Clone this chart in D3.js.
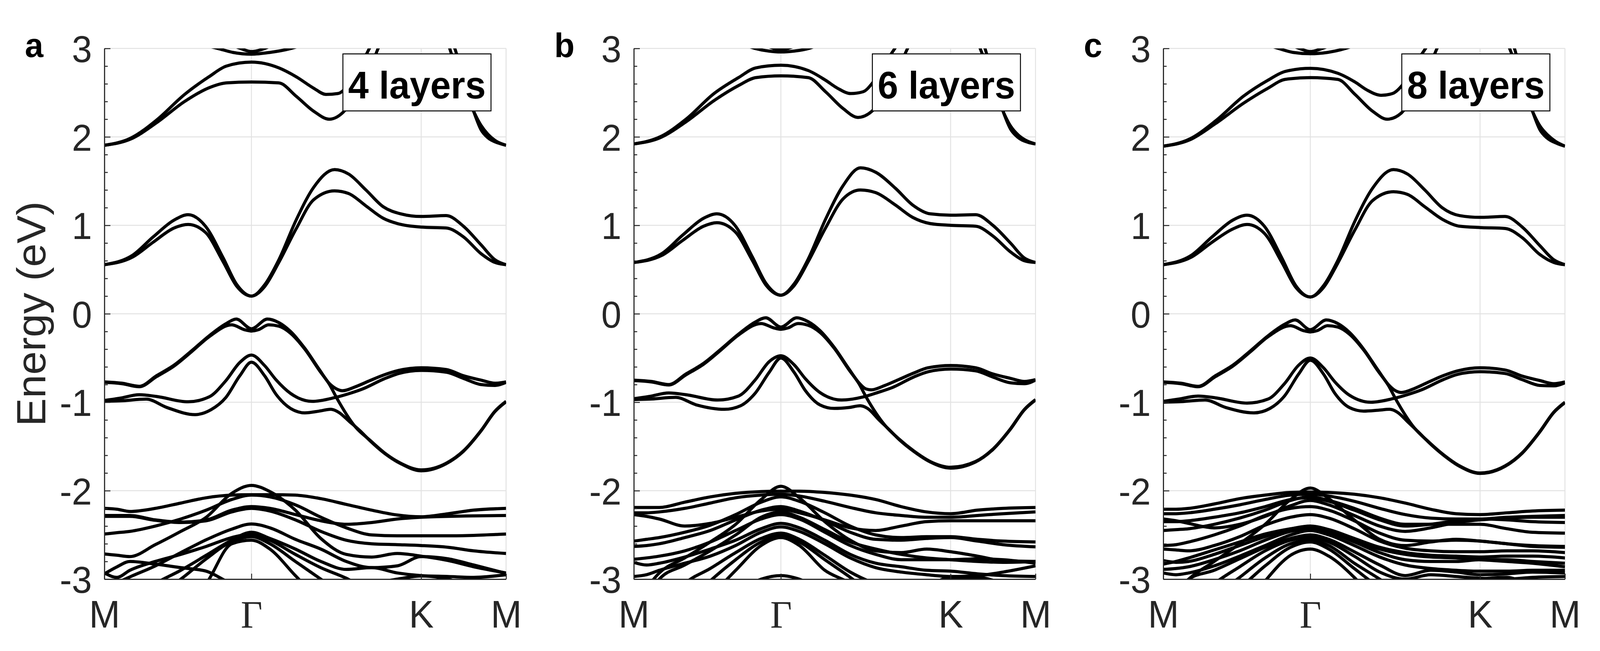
<!DOCTYPE html>
<html>
<head>
<meta charset="utf-8">
<script src="https://cdn.jsdelivr.net/npm/d3@7"></script>
<style>
  html, body { margin: 0; padding: 0; background: #fff; overflow: hidden; }
  svg { display: block; width: 100vw; height: 100vh; }
</style>
</head>
<body>
<script>
// high symmetry points along the k path M-Γ-K-M
var kTicks = [0, 0.5774, 1.244, 1.5774];
var kLabels = ["M", "\u0393", "K", "M"];
var eTicks = [-3, -2, -1, 0, 1, 2, 3];
var eMinor = [-2.8, -2.6, -2.4, -2.2, -1.8, -1.6, -1.4, -1.2, -0.8, -0.6, -0.4, -0.2,
              0.2, 0.4, 0.6, 0.8, 1.2, 1.4, 1.6, 1.8, 2.2, 2.4, 2.6, 2.8];
var panelLetters = ["a", "b", "c"];
var layerLabels = ["4 layers", "6 layers", "8 layers"];

// ---------- panel a (4 layers), bands above -2 eV as [k, E] ----------
var a_top1 = [[0.356,3.06],[0.445,3.0],[0.505,2.955],[0.5774,2.935],[0.65,2.955],[0.733,3.0],[0.80,3.06]];
var a_top2 = [[0.50,3.04],[0.534,3.0],[0.5774,2.965],[0.63,3.0],[0.66,3.04]];
var a_cb2u = [[0,1.905],[0.103,1.985],[0.205,2.19],[0.315,2.48],[0.411,2.68],[0.479,2.80],[0.5774,2.845],[0.685,2.78],[0.753,2.68],[0.822,2.55],[0.87,2.48],[0.917,2.49],[0.959,2.59],[1.013,2.845],[1.05,3.05],[1.15,3.4],[1.244,3.55],[1.33,3.3],[1.356,3.0],[1.397,2.70],[1.438,2.37],[1.479,2.13],[1.506,2.03],[1.534,1.96],[1.5774,1.905]];
var a_cb2l = [[0,1.905],[0.103,1.975],[0.205,2.16],[0.315,2.40],[0.411,2.555],[0.479,2.61],[0.5774,2.62],[0.685,2.61],[0.753,2.46],[0.822,2.29],[0.883,2.20],[0.938,2.28],[0.986,2.47],[1.041,2.75],[1.075,3.0],[1.12,3.25],[1.244,3.45],[1.32,3.25],[1.376,3.0],[1.41,2.66],[1.451,2.28],[1.479,2.08],[1.506,1.99],[1.547,1.93],[1.5774,1.905]];
var a_cb1u = [[0,0.555],[0.11,0.66],[0.192,0.87],[0.274,1.06],[0.329,1.12],[0.397,0.99],[0.466,0.635],[0.52,0.33],[0.5774,0.20],[0.63,0.33],[0.685,0.61],[0.753,1.06],[0.822,1.43],[0.904,1.63],[0.959,1.58],[1.027,1.40],[1.095,1.21],[1.164,1.13],[1.244,1.10],[1.342,1.11],[1.41,0.99],[1.479,0.78],[1.534,0.61],[1.5774,0.555]];
var a_cb1l = [[0,0.555],[0.11,0.64],[0.192,0.81],[0.274,0.97],[0.329,1.01],[0.397,0.92],[0.466,0.59],[0.52,0.31],[0.5774,0.20],[0.63,0.31],[0.685,0.58],[0.753,0.96],[0.822,1.29],[0.904,1.39],[0.959,1.36],[1.027,1.22],[1.095,1.08],[1.164,1.01],[1.244,0.98],[1.342,0.97],[1.41,0.87],[1.479,0.68],[1.534,0.58],[1.5774,0.555]];
var a_vb1 = [[0,-0.77],[0.069,-0.785],[0.137,-0.82],[0.205,-0.70],[0.274,-0.58],[0.342,-0.42],[0.411,-0.25],[0.476,-0.115],[0.518,-0.06],[0.5774,-0.17],[0.640,-0.06],[0.685,-0.10],[0.731,-0.20],[0.787,-0.39],[0.844,-0.63],[0.884,-0.79],[0.912,-0.85],[0.935,-0.87],[0.986,-0.825],[1.043,-0.755],[1.099,-0.69],[1.156,-0.64],[1.244,-0.61],[1.342,-0.63],[1.41,-0.70],[1.479,-0.75],[1.534,-0.785],[1.5774,-0.77]];
var a_vb2 = [[0,-0.775],[0.069,-0.79],[0.137,-0.825],[0.205,-0.71],[0.274,-0.59],[0.342,-0.43],[0.411,-0.26],[0.50,-0.125],[0.55,-0.18],[0.5774,-0.195],[0.605,-0.18],[0.645,-0.125],[0.685,-0.14],[0.731,-0.22],[0.787,-0.40],[0.844,-0.64],[0.884,-0.80],[0.912,-0.95],[0.986,-1.28],[1.043,-1.43],[1.099,-1.57],[1.164,-1.69],[1.244,-1.765],[1.342,-1.69],[1.41,-1.55],[1.479,-1.32],[1.534,-1.10],[1.5774,-0.99]];
var a_vb3 = [[0,-0.98],[0.06,-0.955],[0.137,-0.915],[0.205,-0.935],[0.329,-0.995],[0.411,-0.94],[0.476,-0.76],[0.532,-0.55],[0.5774,-0.467],[0.629,-0.585],[0.674,-0.746],[0.731,-0.90],[0.816,-0.99],[0.901,-0.95],[0.958,-0.905],[1.014,-0.85],[1.099,-0.735],[1.156,-0.675],[1.244,-0.64],[1.342,-0.66],[1.41,-0.73],[1.479,-0.80],[1.534,-0.81],[1.5774,-0.775]];
var a_vb4 = [[0,-0.99],[0.06,-0.985],[0.164,-0.965],[0.246,-1.06],[0.356,-1.14],[0.419,-1.084],[0.476,-0.95],[0.532,-0.70],[0.5774,-0.548],[0.629,-0.70],[0.674,-0.91],[0.731,-1.07],[0.787,-1.12],[0.844,-1.10],[0.889,-1.08],[0.918,-1.11],[0.963,-1.22],[1.003,-1.32],[1.043,-1.435],[1.099,-1.575],[1.164,-1.695],[1.244,-1.775],[1.342,-1.695],[1.41,-1.555],[1.479,-1.325],[1.534,-1.105],[1.5774,-0.995]];

// ---------- panel b (6 layers) ----------
var b_top1 = [[0.40,3.08],[0.476,3.0],[0.53,2.97],[0.5774,2.96],[0.63,2.97],[0.688,3.0],[0.75,3.08]];
var b_top2 = [[0.52,3.03],[0.55,3.0],[0.5774,2.985],[0.605,3.0],[0.635,3.03]];
var b_cb2u = [[0,1.92],[0.103,2.00],[0.205,2.20],[0.315,2.49],[0.411,2.67],[0.479,2.78],[0.5774,2.81],[0.685,2.75],[0.753,2.64],[0.80,2.55],[0.852,2.49],[0.90,2.51],[0.94,2.62],[0.99,2.85],[1.025,3.0],[1.10,3.35],[1.244,3.55],[1.32,3.3],[1.36,3.0],[1.40,2.70],[1.44,2.36],[1.48,2.12],[1.51,2.02],[1.54,1.96],[1.5774,1.92]];
var b_cb2l = [[0,1.92],[0.103,1.99],[0.205,2.17],[0.315,2.41],[0.411,2.58],[0.479,2.67],[0.5774,2.69],[0.685,2.67],[0.753,2.51],[0.822,2.32],[0.88,2.22],[0.935,2.29],[0.98,2.47],[1.04,2.78],[1.075,3.0],[1.12,3.25],[1.244,3.45],[1.32,3.25],[1.379,3.0],[1.41,2.66],[1.451,2.28],[1.479,2.09],[1.506,2.00],[1.547,1.94],[1.5774,1.92]];
var b_cb1u = [[0,0.58],[0.11,0.68],[0.192,0.89],[0.274,1.08],[0.326,1.13],[0.397,1.00],[0.466,0.64],[0.52,0.34],[0.5774,0.21],[0.63,0.34],[0.685,0.62],[0.753,1.07],[0.822,1.45],[0.89,1.65],[0.95,1.60],[1.027,1.42],[1.095,1.23],[1.164,1.13],[1.244,1.115],[1.342,1.12],[1.41,1.00],[1.479,0.80],[1.534,0.63],[1.5774,0.58]];
var b_cb1l = [[0,0.58],[0.11,0.66],[0.192,0.83],[0.274,0.99],[0.326,1.03],[0.397,0.93],[0.466,0.60],[0.52,0.32],[0.5774,0.21],[0.63,0.32],[0.685,0.59],[0.753,0.97],[0.822,1.30],[0.89,1.40],[0.95,1.37],[1.027,1.23],[1.095,1.09],[1.164,1.02],[1.244,1.00],[1.342,0.99],[1.41,0.88],[1.479,0.70],[1.534,0.60],[1.5774,0.58]];
var b_vb1 = [[0,-0.75],[0.069,-0.765],[0.137,-0.80],[0.205,-0.68],[0.274,-0.56],[0.342,-0.40],[0.411,-0.23],[0.476,-0.095],[0.518,-0.045],[0.5774,-0.15],[0.640,-0.045],[0.685,-0.09],[0.731,-0.19],[0.787,-0.38],[0.844,-0.62],[0.884,-0.78],[0.912,-0.85],[0.932,-0.86],[0.986,-0.81],[1.043,-0.74],[1.099,-0.67],[1.156,-0.61],[1.244,-0.585],[1.342,-0.61],[1.41,-0.68],[1.479,-0.73],[1.534,-0.765],[1.5774,-0.745]];
var b_vb2 = [[0,-0.755],[0.069,-0.77],[0.137,-0.805],[0.205,-0.69],[0.274,-0.57],[0.342,-0.41],[0.411,-0.24],[0.50,-0.11],[0.55,-0.16],[0.5774,-0.175],[0.605,-0.16],[0.645,-0.11],[0.685,-0.13],[0.731,-0.21],[0.787,-0.39],[0.844,-0.63],[0.884,-0.79],[0.912,-0.94],[0.986,-1.26],[1.043,-1.42],[1.099,-1.55],[1.164,-1.67],[1.244,-1.735],[1.342,-1.67],[1.41,-1.53],[1.479,-1.30],[1.534,-1.08],[1.5774,-0.97]];
var b_vb3 = [[0,-0.96],[0.06,-0.935],[0.137,-0.895],[0.205,-0.915],[0.329,-0.975],[0.411,-0.93],[0.476,-0.75],[0.532,-0.54],[0.5774,-0.475],[0.629,-0.575],[0.674,-0.735],[0.731,-0.89],[0.816,-0.975],[0.901,-0.94],[0.958,-0.89],[1.014,-0.835],[1.099,-0.715],[1.156,-0.655],[1.244,-0.625],[1.342,-0.645],[1.41,-0.715],[1.479,-0.78],[1.534,-0.79],[1.5774,-0.75]];
var b_vb4 = [[0,-0.97],[0.06,-0.965],[0.164,-0.945],[0.246,-1.03],[0.356,-1.08],[0.419,-1.04],[0.476,-0.90],[0.532,-0.66],[0.5774,-0.50],[0.629,-0.66],[0.674,-0.87],[0.731,-1.03],[0.787,-1.07],[0.844,-1.06],[0.889,-1.04],[0.918,-1.07],[0.963,-1.20],[1.003,-1.31],[1.043,-1.425],[1.099,-1.555],[1.164,-1.675],[1.244,-1.745],[1.342,-1.675],[1.41,-1.535],[1.479,-1.305],[1.534,-1.085],[1.5774,-0.975]];

// ---------- panel c (8 layers) ----------
var c_top1 = [[0.38,3.07],[0.452,3.0],[0.51,2.955],[0.5774,2.94],[0.645,2.955],[0.716,3.0],[0.78,3.07]];
var c_top2 = [[0.50,3.04],[0.534,3.0],[0.5774,2.965],[0.625,3.0],[0.66,3.04]];
var c_cb2u = [[0,1.895],[0.103,1.975],[0.205,2.18],[0.315,2.46],[0.411,2.64],[0.479,2.74],[0.5774,2.775],[0.685,2.72],[0.753,2.62],[0.80,2.53],[0.856,2.47],[0.90,2.49],[0.94,2.59],[0.99,2.83],[1.03,3.0],[1.10,3.35],[1.244,3.55],[1.32,3.3],[1.36,3.0],[1.40,2.70],[1.44,2.36],[1.48,2.12],[1.51,2.02],[1.54,1.95],[1.5774,1.895]];
var c_cb2l = [[0,1.895],[0.103,1.965],[0.205,2.15],[0.315,2.38],[0.411,2.55],[0.479,2.65],[0.5774,2.67],[0.685,2.65],[0.753,2.48],[0.822,2.29],[0.88,2.20],[0.935,2.27],[0.98,2.45],[1.04,2.76],[1.075,3.0],[1.12,3.25],[1.244,3.45],[1.32,3.25],[1.379,3.0],[1.41,2.66],[1.451,2.28],[1.479,2.08],[1.506,1.99],[1.547,1.925],[1.5774,1.895]];
var c_cb1u = [[0,0.555],[0.11,0.66],[0.192,0.87],[0.274,1.06],[0.329,1.115],[0.397,0.99],[0.466,0.63],[0.52,0.32],[0.5774,0.19],[0.63,0.32],[0.685,0.60],[0.753,1.05],[0.822,1.42],[0.904,1.63],[0.959,1.58],[1.027,1.40],[1.095,1.20],[1.164,1.11],[1.244,1.09],[1.342,1.10],[1.41,0.98],[1.479,0.77],[1.534,0.61],[1.5774,0.555]];
var c_cb1l = [[0,0.555],[0.11,0.64],[0.192,0.81],[0.274,0.96],[0.329,1.01],[0.397,0.91],[0.466,0.58],[0.52,0.30],[0.5774,0.19],[0.63,0.30],[0.685,0.57],[0.753,0.95],[0.822,1.28],[0.904,1.38],[0.959,1.35],[1.027,1.21],[1.095,1.07],[1.164,0.99],[1.244,0.975],[1.342,0.965],[1.41,0.86],[1.479,0.67],[1.534,0.58],[1.5774,0.555]];
var c_vb1 = [[0,-0.77],[0.069,-0.785],[0.137,-0.82],[0.205,-0.70],[0.274,-0.58],[0.342,-0.42],[0.411,-0.25],[0.476,-0.12],[0.518,-0.07],[0.5774,-0.18],[0.640,-0.07],[0.685,-0.11],[0.731,-0.21],[0.787,-0.40],[0.844,-0.64],[0.884,-0.80],[0.912,-0.87],[0.935,-0.89],[0.986,-0.845],[1.043,-0.77],[1.099,-0.70],[1.156,-0.645],[1.244,-0.61],[1.342,-0.635],[1.41,-0.705],[1.479,-0.755],[1.534,-0.79],[1.5774,-0.77]];
var c_vb2 = [[0,-0.775],[0.069,-0.79],[0.137,-0.825],[0.205,-0.71],[0.274,-0.59],[0.342,-0.43],[0.411,-0.26],[0.50,-0.135],[0.55,-0.19],[0.5774,-0.205],[0.605,-0.19],[0.645,-0.135],[0.685,-0.15],[0.731,-0.23],[0.787,-0.41],[0.844,-0.65],[0.884,-0.81],[0.912,-0.96],[0.986,-1.29],[1.043,-1.45],[1.099,-1.59],[1.164,-1.72],[1.244,-1.80],[1.342,-1.72],[1.41,-1.57],[1.479,-1.33],[1.534,-1.11],[1.5774,-1.0]];
var c_vb3 = [[0,-0.99],[0.06,-0.965],[0.137,-0.93],[0.205,-0.95],[0.329,-1.01],[0.411,-0.965],[0.476,-0.79],[0.532,-0.58],[0.5774,-0.50],[0.629,-0.61],[0.674,-0.77],[0.731,-0.92],[0.816,-1.0],[0.901,-0.96],[0.958,-0.915],[1.014,-0.86],[1.099,-0.745],[1.156,-0.685],[1.244,-0.655],[1.342,-0.675],[1.41,-0.745],[1.479,-0.81],[1.534,-0.815],[1.5774,-0.78]];
var c_vb4 = [[0,-1.0],[0.06,-0.995],[0.164,-0.975],[0.246,-1.06],[0.356,-1.12],[0.419,-1.07],[0.476,-0.93],[0.532,-0.68],[0.5774,-0.525],[0.629,-0.68],[0.674,-0.90],[0.731,-1.06],[0.787,-1.10],[0.844,-1.09],[0.889,-1.08],[0.918,-1.11],[0.963,-1.23],[1.003,-1.34],[1.043,-1.455],[1.099,-1.595],[1.164,-1.725],[1.244,-1.805],[1.342,-1.725],[1.41,-1.575],[1.479,-1.335],[1.534,-1.115],[1.5774,-1.005]];

// ---------- deep bands (-2 to -3 eV), energies on a shared k grid ----------
var kLow = [0, 0.05, 0.1, 0.2, 0.3, 0.4, 0.5, 0.5774, 0.65, 0.75, 0.85, 0.95, 1.05, 1.15, 1.244, 1.35, 1.45, 1.5774];

var lowA = [
  [-2.20,-2.21,-2.235,-2.20,-2.14,-2.08,-2.05,-2.045,-2.045,-2.05,-2.09,-2.155,-2.22,-2.275,-2.295,-2.26,-2.22,-2.20],
  [-2.715,-2.73,-2.745,-2.61,-2.46,-2.30,-2.03,-1.94,-2.01,-2.22,-2.54,-2.72,-2.75,-2.71,-2.74,-2.79,-2.86,-2.93],
  [-2.28,-2.28,-2.28,-2.33,-2.355,-2.33,-2.22,-2.18,-2.20,-2.27,-2.34,-2.38,-2.36,-2.32,-2.30,-2.29,-2.285,-2.28],
  [-2.49,-2.475,-2.46,-2.40,-2.32,-2.22,-2.10,-2.05,-2.07,-2.16,-2.30,-2.42,-2.50,-2.51,-2.51,-2.51,-2.505,-2.49],
  [-2.29,-2.29,-2.29,-2.335,-2.36,-2.34,-2.24,-2.20,-2.23,-2.33,-2.46,-2.56,-2.60,-2.61,-2.62,-2.64,-2.68,-2.71],
  [-3.1,-3.04,-2.975,-2.85,-2.70,-2.555,-2.435,-2.376,-2.42,-2.55,-2.66,-2.80,-2.87,-2.85,-2.745,-2.77,-2.84,-2.935],
  [-3.4,-3.32,-3.25,-3.05,-2.90,-2.73,-2.56,-2.47,-2.54,-2.66,-2.80,-2.89,-2.87,-2.93,-2.96,-2.97,-2.98,-2.95],
  [-3.5,-3.42,-3.35,-3.2,-3.0,-2.77,-2.575,-2.52,-2.60,-2.80,-3.0,-3.2,-3.3,-3.3,-3.3,-3.3,-3.3,-3.3],
  [-3.8,-3.75,-3.7,-3.55,-3.35,-3.05,-2.60,-2.56,-2.66,-2.96,-3.25,-3.4,-3.4,-3.4,-3.4,-3.4,-3.4,-3.4],
  [-2.93,-2.98,-2.90,-2.80,-2.72,-2.63,-2.53,-2.49,-2.56,-2.72,-2.87,-2.99,-3.15,-3.2,-3.2,-3.2,-3.2,-3.2],
  [-2.94,-2.86,-2.80,-2.83,-2.87,-2.91,-3.05,-3.1,-3.1,-3.1,-3.1,-3.1,-3.05,-3.0,-2.965,-3.0,-3.1,-3.2]
];

var lowB = [
  [-2.19,-2.19,-2.19,-2.13,-2.07,-2.03,-2.01,-2.005,-2.005,-2.02,-2.05,-2.10,-2.18,-2.24,-2.26,-2.22,-2.20,-2.19],
  [-2.25,-2.25,-2.24,-2.20,-2.14,-2.08,-2.05,-2.04,-2.06,-2.12,-2.19,-2.25,-2.28,-2.30,-2.30,-2.28,-2.26,-2.24],
  [-2.27,-2.29,-2.32,-2.40,-2.37,-2.30,-2.23,-2.21,-2.25,-2.33,-2.42,-2.45,-2.40,-2.35,-2.34,-2.34,-2.34,-2.34],
  [-3.3,-3.1,-2.93,-2.76,-2.58,-2.38,-2.10,-1.95,-2.08,-2.35,-2.56,-2.68,-2.70,-2.66,-2.69,-2.74,-2.79,-2.80],
  [-2.57,-2.55,-2.53,-2.47,-2.39,-2.27,-2.13,-2.07,-2.12,-2.25,-2.40,-2.50,-2.53,-2.52,-2.52,-2.55,-2.57,-2.58],
  [-2.63,-2.62,-2.60,-2.53,-2.45,-2.33,-2.22,-2.18,-2.23,-2.34,-2.47,-2.55,-2.56,-2.54,-2.53,-2.57,-2.61,-2.635],
  [-3.4,-3.2,-3.0,-2.84,-2.68,-2.50,-2.30,-2.24,-2.30,-2.44,-2.58,-2.66,-2.72,-2.76,-2.78,-2.80,-2.81,-2.80],
  [-2.775,-2.76,-2.74,-2.68,-2.58,-2.45,-2.32,-2.27,-2.32,-2.47,-2.62,-2.72,-2.78,-2.78,-2.78,-2.77,-2.78,-2.82],
  [-2.81,-2.84,-2.82,-2.75,-2.66,-2.56,-2.43,-2.37,-2.42,-2.56,-2.72,-2.82,-2.86,-2.90,-2.91,-2.94,-2.96,-2.97],
  [-2.97,-2.95,-2.90,-2.82,-2.74,-2.62,-2.47,-2.41,-2.46,-2.60,-2.76,-2.87,-2.92,-2.95,-2.97,-2.96,-2.92,-2.85],
  [-3.6,-3.5,-3.4,-3.05,-2.88,-2.70,-2.54,-2.48,-2.55,-2.73,-2.92,-3.05,-3.1,-3.1,-3.0,-2.98,-3.05,-3.2],
  [-3.8,-3.7,-3.6,-3.3,-3.02,-2.78,-2.58,-2.51,-2.58,-2.78,-2.98,-3.2,-3.3,-3.3,-3.3,-3.3,-3.3,-3.3],
  [-4.0,-3.9,-3.8,-3.5,-3.2,-2.9,-2.62,-2.53,-2.62,-2.90,-3.05,-3.3,-3.4,-3.4,-3.4,-3.4,-3.4,-3.4],
  [-3.5,-3.5,-3.5,-3.4,-3.3,-3.15,-3.0,-2.96,-3.0,-3.15,-3.3,-3.4,-3.3,-3.1,-2.98,-3.0,-3.1,-3.3]
];

var lowC = [
  [-2.21,-2.21,-2.20,-2.15,-2.09,-2.05,-2.02,-2.015,-2.02,-2.04,-2.08,-2.14,-2.21,-2.26,-2.27,-2.25,-2.23,-2.22],
  [-2.26,-2.26,-2.25,-2.21,-2.16,-2.10,-2.05,-2.04,-2.06,-2.12,-2.20,-2.27,-2.31,-2.32,-2.32,-2.30,-2.29,-2.28],
  [-2.32,-2.34,-2.37,-2.42,-2.38,-2.29,-2.17,-2.11,-2.16,-2.28,-2.40,-2.46,-2.42,-2.36,-2.33,-2.31,-2.30,-2.30],
  [-3.3,-3.15,-3.0,-2.80,-2.60,-2.38,-2.10,-1.97,-2.09,-2.33,-2.55,-2.62,-2.58,-2.55,-2.57,-2.60,-2.63,-2.64],
  [-2.45,-2.44,-2.43,-2.38,-2.31,-2.22,-2.11,-2.07,-2.11,-2.20,-2.31,-2.38,-2.38,-2.38,-2.38,-2.43,-2.47,-2.48],
  [-2.62,-2.61,-2.58,-2.50,-2.40,-2.28,-2.20,-2.18,-2.22,-2.34,-2.48,-2.56,-2.57,-2.56,-2.57,-2.60,-2.62,-2.63],
  [-2.66,-2.67,-2.68,-2.62,-2.52,-2.39,-2.30,-2.27,-2.31,-2.43,-2.57,-2.65,-2.68,-2.69,-2.69,-2.68,-2.68,-2.70],
  [-2.83,-2.80,-2.76,-2.67,-2.58,-2.49,-2.43,-2.40,-2.44,-2.54,-2.64,-2.70,-2.73,-2.74,-2.75,-2.74,-2.74,-2.76],
  [-2.89,-2.88,-2.86,-2.78,-2.68,-2.56,-2.46,-2.43,-2.47,-2.58,-2.70,-2.78,-2.80,-2.80,-2.78,-2.78,-2.80,-2.82],
  [-2.93,-2.95,-2.93,-2.85,-2.74,-2.62,-2.50,-2.45,-2.50,-2.62,-2.75,-2.84,-2.88,-2.90,-2.91,-2.91,-2.90,-2.90],
  [-3.4,-3.2,-3.0,-2.90,-2.77,-2.64,-2.54,-2.50,-2.55,-2.69,-2.84,-2.96,-2.90,-2.92,-2.95,-2.94,-2.92,-2.93],
  [-3.6,-3.5,-3.3,-3.05,-2.86,-2.68,-2.56,-2.53,-2.58,-2.74,-2.92,-3.0,-2.95,-2.97,-2.99,-3.0,-2.98,-2.97],
  [-3.8,-3.7,-3.5,-3.2,-2.98,-2.76,-2.60,-2.56,-2.62,-2.82,-3.0,-3.2,-3.3,-3.2,-3.0,-2.98,-3.1,-3.3],
  [-4.2,-4.1,-4.0,-3.7,-3.4,-3.02,-2.73,-2.66,-2.74,-2.98,-3.3,-3.5,-3.5,-3.5,-3.5,-3.5,-3.5,-3.5],
  [-3.9,-3.8,-3.6,-3.3,-3.1,-2.85,-2.64,-2.58,-2.66,-2.88,-3.1,-3.3,-3.4,-3.4,-3.4,-3.4,-3.4,-3.4],
  [-2.35,-2.35,-2.34,-2.30,-2.25,-2.18,-2.10,-2.08,-2.12,-2.22,-2.33,-2.40,-2.38,-2.34,-2.32,-2.33,-2.35,-2.36],
  [-2.79,-2.81,-2.80,-2.72,-2.62,-2.52,-2.44,-2.42,-2.46,-2.56,-2.66,-2.72,-2.75,-2.76,-2.78,-2.80,-2.82,-2.86]
];

var upperA = [a_top1, a_top2, a_cb2u, a_cb2l, a_cb1u, a_cb1l, a_vb1, a_vb2, a_vb3, a_vb4];
var upperB = [b_top1, b_top2, b_cb2u, b_cb2l, b_cb1u, b_cb1l, b_vb1, b_vb2, b_vb3, b_vb4];
var upperC = [c_top1, c_top2, c_cb2u, c_cb2l, c_cb1u, c_cb1l, c_vb1, c_vb2, c_vb3, c_vb4];

// ---------- layout (drawn in a 4246 x 1667 coordinate box, stretched to the window) ----------
var W = 4246, H = 1667;
var panelLeft = [277, 1682, 3087];
var plotTop = 124, plotW = 1066, plotH = 1359;
var sans = "'Liberation Sans', Arial, Helvetica, sans-serif";
var serif = "'Liberation Serif', 'Times New Roman', serif";
var axisColor = "#262626";

var svg = d3.select("body").append("svg")
    .attr("viewBox", "0 0 " + W + " " + H)
    .attr("preserveAspectRatio", "none")
    .style("background", "#fff");

var x = d3.scaleLinear().domain([0, 1.5774]).range([0, plotW]);
var y = d3.scaleLinear().domain([-3, 3]).range([plotH, 0]);

var line = d3.line()
    .x(function(d) { return x(d[0]); })
    .y(function(d) { return y(d[1]); })
    .curve(d3.curveMonotoneX);

var panels = [
    {upper: upperA, lower: lowA},
    {upper: upperB, lower: lowB},
    {upper: upperC, lower: lowC}
];

var defs = svg.append("defs");

panels.forEach(function(p, i) {
    var left = panelLeft[i];
    var g = svg.append("g").attr("transform", "translate(" + left + "," + plotTop + ")");

    defs.append("clipPath").attr("id", "clip" + i)
        .append("rect").attr("x", 0).attr("y", 0).attr("width", plotW).attr("height", plotH);

    // grid
    g.selectAll(".hgrid").data(eTicks).enter().append("line")
        .attr("x1", 0).attr("x2", plotW)
        .attr("y1", function(d) { return y(d); }).attr("y2", function(d) { return y(d); })
        .attr("stroke", "#e2e2e2").attr("stroke-width", 2.5);
    g.selectAll(".vgrid").data(kTicks.slice(1)).enter().append("line")
        .attr("x1", function(d) { return x(d); }).attr("x2", function(d) { return x(d); })
        .attr("y1", 0).attr("y2", plotH)
        .attr("stroke", "#e2e2e2").attr("stroke-width", 2.5);

    // bands
    var bands = g.append("g").attr("clip-path", "url(#clip" + i + ")");
    var lowPts = p.lower.map(function(b) {
        return kLow.map(function(k, j) { return [k, b[j]]; });
    });
    bands.selectAll(".band").data(p.upper.concat(lowPts)).enter().append("path")
        .attr("d", line)
        .attr("fill", "none")
        .attr("stroke", "#000")
        .attr("stroke-width", 8)
        .attr("stroke-linejoin", "round");

    // y axis
    var yAxis = g.append("g")
        .call(d3.axisLeft(y).tickValues(eTicks).tickSizeInner(-16).tickSizeOuter(0).tickPadding(33)
            .tickFormat(function(d) { return d < 0 ? "-" + Math.abs(d) : d; }))
        .attr("font-size", 96).attr("font-family", sans)
        .style("color", axisColor);
    yAxis.selectAll("line").attr("stroke-width", 2.5);
    yAxis.select(".domain").attr("stroke-width", 3);
    yAxis.selectAll("text").attr("dy", "0.36em");

    var yMinor = g.append("g")
        .call(d3.axisLeft(y).tickValues(eMinor).tickSizeInner(-9).tickSizeOuter(0).tickFormat(""))
        .style("color", axisColor);
    yMinor.select(".domain").remove();
    yMinor.selectAll("line").attr("stroke-width", 2.5);

    // x axis
    var xAxis = g.append("g")
        .attr("transform", "translate(0," + plotH + ")")
        .call(d3.axisBottom(x).tickValues(kTicks).tickSizeInner(-14).tickSizeOuter(0).tickPadding(54)
            .tickFormat(function(d, j) { return kLabels[j]; }))
        .attr("font-size", 99).attr("font-family", sans)
        .style("color", axisColor);
    xAxis.selectAll("line").attr("stroke-width", 2.5);
    xAxis.select(".domain").attr("stroke-width", 3);
    xAxis.selectAll("text")
        .style("font-family", function(d, j) { return kLabels[j] === "\u0393" ? serif : sans; });

    // layer-count box
    var box = g.append("g").attr("transform", "translate(633," + (138 - plotTop) + ")");
    box.append("rect")
        .attr("width", 393).attr("height", 146)
        .attr("fill", "#fff").attr("stroke", "#000").attr("stroke-width", 2.5);
    box.append("text")
        .attr("x", 196.5).attr("y", 114)
        .attr("text-anchor", "middle")
        .attr("font-family", sans).attr("font-weight", "bold").attr("font-size", 98)
        .attr("fill", "#000")
        .text(layerLabels[i]);

    // panel letter
    svg.append("text")
        .attr("x", left - 211).attr("y", 146)
        .attr("font-family", sans).attr("font-weight", "bold").attr("font-size", 88)
        .attr("fill", "#000")
        .text(panelLetters[i]);
});

// y-axis title (first panel only)
svg.append("text")
    .attr("transform", "translate(120," + (plotTop + plotH / 2) + ") rotate(-90)")
    .attr("text-anchor", "middle")
    .attr("font-family", sans).attr("font-size", 108)
    .attr("fill", axisColor)
    .text("Energy (eV)");
</script>
</body>
</html>
